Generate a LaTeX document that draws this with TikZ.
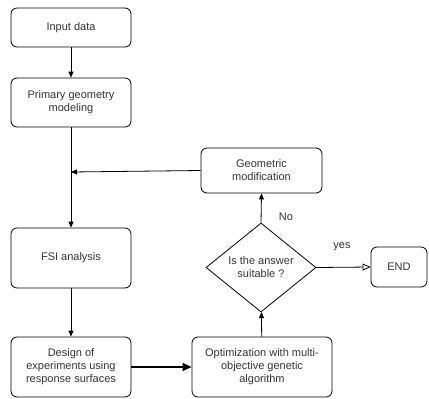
\documentclass[tikz,border=0pt]{standalone}
\usepackage{fontspec}
\setmainfont{Liberation Sans}
\usetikzlibrary{shapes.geometric,arrows.meta}
\begin{document}
\begin{tikzpicture}[x=1pt,y=-1pt,
  font=\fontsize{11}{13}\selectfont,
  box/.style={draw, rounded corners=6pt, line width=0.8pt, align=center, text=black!80, inner sep=0pt},
  conn/.style={draw, line width=0.8pt, -{Triangle[length=6pt,width=5pt]}},
  lbl/.style={text=black!80, inner sep=0pt}]
\useasboundingbox (0,0) rectangle (429,399);
\node[box, minimum width=120pt, minimum height=39pt] (input) at (71,27.5) {Input data};
\node[box, minimum width=120pt, minimum height=49pt] (prim) at (71,102.5) {Primary geometry\\modeling};
\node[box, minimum width=120pt, minimum height=60pt] (fsi) at (71,258) {FSI analysis};
\node[box, minimum width=120pt, minimum height=60pt] (doe) at (71,367) {Design of\\experiments using\\response surfaces};
\node[box, minimum width=140pt, minimum height=60pt] (opt) at (262,367) {Optimization with multi-\\objective genetic\\algorithm};
\node[box, minimum width=121pt, minimum height=45pt] (geo) at (261.5,170.5) {Geometric\\modification};
\node[draw, diamond, line width=0.8pt, minimum width=110pt, minimum height=89pt, inner sep=0pt, align=center, text=black!80] (dec) at (261,267.5) {Is the answer\\suitable ?};
\node[box, minimum width=56pt, minimum height=40pt] (end) at (399,267) {END};
\coordinate (join) at (71,172);
\draw[conn] (input) -- (prim);
\draw[conn] (prim) -- (fsi);
\draw[conn] (geo.west) -- (join);
\draw[conn] (fsi) -- (doe);
\draw[draw, line width=1.4pt, -{Triangle[length=9pt,width=8pt]}] (doe) -- (opt);
\draw[conn] (opt) -- (dec);
\draw[conn] (dec.north) -- (geo.south);
\draw[draw, line width=0.8pt, -{Triangle[open,length=8pt,width=7pt]}] (dec.east) -- (end.west);
\node[lbl] (no) at (286,217) {No};
\node[lbl] (yes) at (342,247) {yes};
\end{tikzpicture}
\end{document}
